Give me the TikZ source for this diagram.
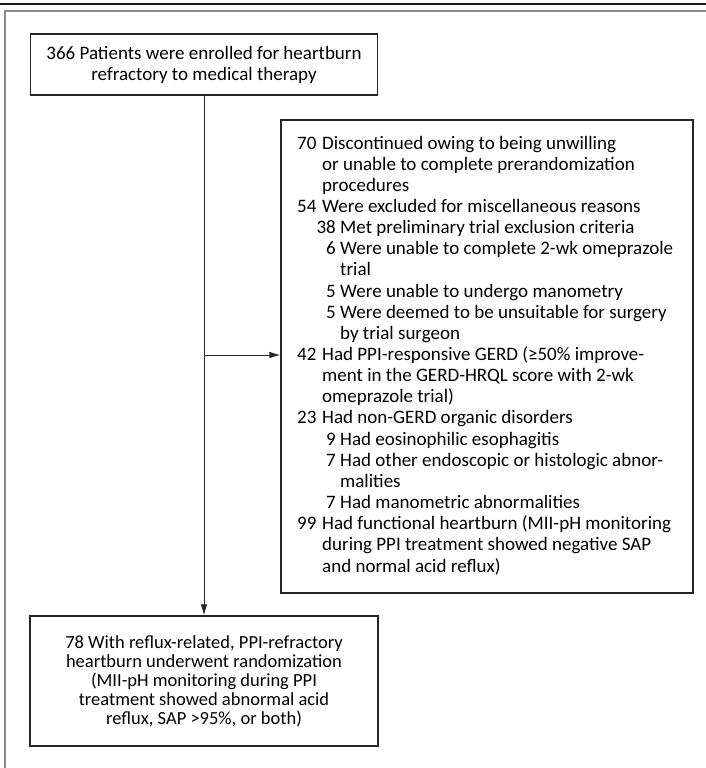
\documentclass[tikz,border=0pt]{standalone}
\usepackage{fontspec}
\setmainfont{Carlito}
\usetikzlibrary{arrows.meta}
\begin{document}
\begin{tikzpicture}[x=1pt,y=-1pt,
  box/.style={draw=black!85,line width=1.1pt,rectangle,inner sep=0pt},
  ln/.style={anchor=base west,inner sep=0pt,font=\fontsize{19}{21}\selectfont},
  nr/.style={anchor=base east,inner sep=0pt,font=\fontsize{19}{21}\selectfont},
  arr/.style={draw=black!85,line width=1pt,-{Latex[length=11pt,width=6.5pt]}}]
\useasboundingbox (0,0) rectangle (706,768);
% header rule and frame
\draw[line width=2.5pt,black!90] (0,4) -- (706,4);
\draw[line width=1.5pt,black!45] (5,768) -- (5,11) -- (706,11);
% boxes
\node[box,minimum width=347pt,minimum height=61pt,align=center,
      font=\fontsize{19}{21}\selectfont] (top) at (204,64.5)
  {366 Patients were enrolled for heartburn\\refractory to medical therapy};
\node[box,minimum width=412pt,minimum height=473pt] (excl) at (487,356.5) {};
\node[box,minimum width=348pt,minimum height=130pt,align=center,
      font=\fontsize{18.5}{19}\selectfont] (rand) at (204,681)
  {78 With reflux-related, PPI-refractory\\heartburn underwent randomization\\(MII-pH monitoring during PPI\\treatment showed abnormal acid\\reflux, SAP >95\%, or both)};
% exclusion lines
\node[ln] (n0) at (297,149.0) {70};
\node[ln] (t0) at (322,149.0) {Discontinued owing to being unwilling};
\node[ln] (t1) at (322,170.15) {or unable to complete prerandomization};
\node[ln] (t2) at (322,191.3) {procedures};
\node[ln] (n3) at (297,212.45) {54};
\node[ln] (t3) at (322,212.45) {Were excluded for miscellaneous reasons};
\node[nr] (n4) at (336,233.6) {38};
\node[ln] (t4) at (340,233.6) {Met preliminary trial exclusion criteria};
\node[nr] (n5) at (336,254.75) {6};
\node[ln] (t5) at (340,254.75) {Were unable to complete 2-wk omeprazole};
\node[ln] (t6) at (340,275.9) {trial};
\node[nr] (n7) at (336,297.05) {5};
\node[ln] (t7) at (340,297.05) {Were unable to undergo manometry};
\node[nr] (n8) at (336,318.2) {5};
\node[ln] (t8) at (340,318.2) {Were deemed to be unsuitable for surgery};
\node[ln] (t9) at (340,339.35) {by trial surgeon};
\node[ln] (n10) at (297,360.5) {42};
\node[ln] (t10) at (322,360.5) {Had PPI-responsive GERD (≥50\% improve-};
\node[ln] (t11) at (322,381.65) {ment in the GERD-HRQL score with 2-wk};
\node[ln] (t12) at (322,402.8) {omeprazole trial)};
\node[ln] (n13) at (297,423.95) {23};
\node[ln] (t13) at (322,423.95) {Had non-GERD organic disorders};
\node[nr] (n14) at (336,445.1) {9};
\node[ln] (t14) at (340,445.1) {Had eosinophilic esophagitis};
\node[nr] (n15) at (336,466.25) {7};
\node[ln] (t15) at (340,466.25) {Had other endoscopic or histologic abnor-};
\node[ln] (t16) at (340,487.4) {malities};
\node[nr] (n17) at (336,508.55) {7};
\node[ln] (t17) at (340,508.55) {Had manometric abnormalities};
\node[ln] (n18) at (297,529.7) {99};
\node[ln] (t18) at (322,529.7) {Had functional heartburn (MII-pH monitoring};
\node[ln] (t19) at (322,550.85) {during PPI treatment showed negative SAP};
\node[ln] (t20) at (322,572.0) {and normal acid reflux)};
% connectors
\draw[arr] (top.south) -- (rand.north);
\coordinate (j) at (204,355);
\draw[arr] (j) -- (j -| excl.west);
\end{tikzpicture}
\end{document}
